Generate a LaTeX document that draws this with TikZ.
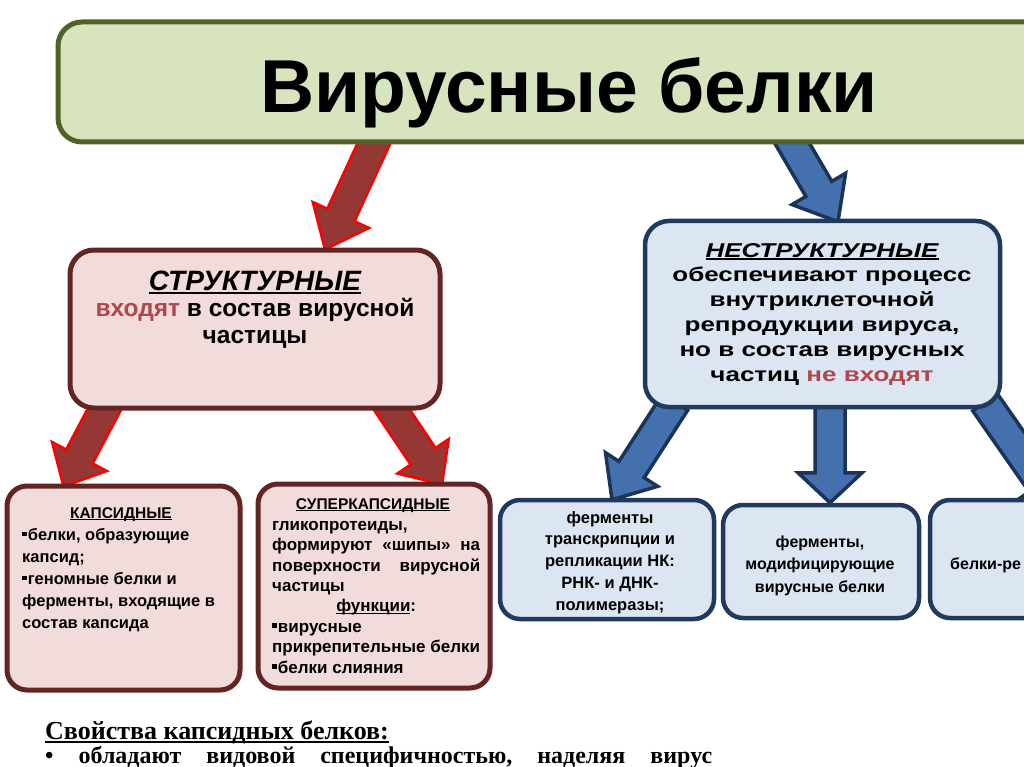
\documentclass[tikz,border=0pt]{standalone}
\usepackage{fontspec}
\setmainfont{Liberation Sans}
\newfontfamily\widefont[FakeStretch=1.3]{Liberation Sans}
\newfontfamily\serifb{Liberation Serif}
\usetikzlibrary{calc}
\pgfdeclarelayer{bg}
\pgfsetlayers{bg,main}
\definecolor{titlefill}{HTML}{D7E4BD}
\definecolor{titleline}{HTML}{4F6228}
\definecolor{pinkfill}{HTML}{F2DCDB}
\definecolor{pinkline}{HTML}{632523}
\definecolor{bluefill}{HTML}{DCE6F2}
\definecolor{blueline}{HTML}{1F3A5C}
\definecolor{redarrow}{HTML}{953735}
\definecolor{redarrowline}{HTML}{FF0000}
\definecolor{bluearrow}{HTML}{4471AD}
\definecolor{bluearrowline}{HTML}{1A3357}
\definecolor{redtext}{HTML}{B0474C}
\newsavebox\ulbox
\newcommand\sqb{\raisebox{0.24em}{\rule{0.28em}{0.28em}}\hspace{0.06em}}
\newcommand\ulx[2]{\sbox\ulbox{#2}\rlap{\rule[-0.15em]{\wd\ulbox}{#1}}\usebox\ulbox}
\newcommand\blockarr[6]{%
  \coordinate (ba-h) at ($(#2)!#5!(#1)$);
  \filldraw[#6] ($(#1)!#3!90:(#2)$) -- ($(ba-h)!#3!90:(#2)$) -- ($(ba-h)!#4!90:(#2)$) -- (#2)
    -- ($(ba-h)!#4!-90:(#2)$) -- ($(ba-h)!#3!-90:(#2)$) -- ($(#1)!#3!-90:(#2)$) -- cycle;}
\tikzset{
  titlebox/.style={draw=titleline, fill=titlefill, line width=5pt, rounded corners=24pt, inner sep=0pt},
  pinkbox/.style={draw=pinkline, fill=pinkfill, line width=5pt, rounded corners=24pt, inner sep=0pt},
  bluebox/.style={draw=blueline, fill=bluefill, line width=4.5pt, rounded corners=24pt, inner sep=0pt},
  smallbox/.style={rounded corners=20pt},
  tx/.style={inner sep=0pt, align=center},
  redarr/.style={fill=redarrow, draw=redarrowline, line width=2.5pt, line join=miter},
  bluearr/.style={fill=bluearrow, draw=bluearrowline, line width=3.5pt, line join=miter}
}
\begin{document}
\begin{tikzpicture}[x=1pt, y=-1pt]
\useasboundingbox (0,0) rectangle (1024,767);
\begin{pgfonlayer}{bg}
\fill[white] (0,0) rectangle (1024,767);
\end{pgfonlayer}

% boxes
\node[titlebox, minimum width=1022pt, minimum height=120pt] (title) at (569,82) {};
\node[pinkbox, minimum width=370pt, minimum height=158pt] (struct) at (255,329) {};
\node[pinkbox, smallbox, minimum width=233pt, minimum height=204pt] (capsid) at (123.5,588) {};
\node[pinkbox, smallbox, minimum width=232pt, minimum height=204pt] (supercap) at (374,586) {};
\node[bluebox, minimum width=355pt, minimum height=186pt] (nonstruct) at (822.5,314) {};
\node[bluebox, smallbox, minimum width=214pt, minimum height=119pt] (enz1) at (607,559.5) {};
\node[bluebox, smallbox, minimum width=196pt, minimum height=113pt] (enz2) at (821,561.5) {};
\node[bluebox, smallbox, minimum width=130pt, minimum height=118pt] (enz3) at (995,559) {};

% texts
\node[tx, anchor=base, font=\fontsize{75}{80}\selectfont\bfseries] (titletext) at (569,113) {Вирусные белки};

\node[tx, anchor=north, font=\fontsize{24.5}{26.5}\selectfont\bfseries] (structtext) at (255,262)
  {{\fontsize{28}{28}\selectfont\itshape\rule{0pt}{28pt}\ulx{2.2pt}{СТРУКТУРНЫЕ}}\\
   \textcolor{redtext}{входят} в состав вирусной\\ частицы};

\node[tx, anchor=base, font=\fontsize{15.5}{18}\selectfont\bfseries] (caphead) at (121,518) {\ulx{1.3pt}{КАПСИДНЫЕ}};
\node[tx, align=left, anchor=north west, font=\fontsize{16.5}{22}\selectfont\bfseries] (capbody) at (22,524)
  {\rule{0pt}{16pt}\sqb белки, образующие\\ капсид;\\ \sqb геномные белки и\\ ферменты, входящие в\\ состав капсида};

\node[tx, anchor=base, font=\fontsize{15.5}{18}\selectfont\bfseries] (suphead) at (373,509) {\ulx{1.3pt}{СУПЕРКАПСИДНЫЕ}};
\node[tx, align=left, anchor=north west, font=\fontsize{17}{20.4}\selectfont\bfseries] (supbody) at (272,514)
  {\rule{0pt}{16pt}гликопротеиды,\\
   \hbox to 208pt{формируют\hfill «шипы»\hfill на}\\
   \hbox to 208pt{поверхности\hfill вирусной}\\
   частицы\\
   \hbox to 208pt{\hfill\ulx{1.3pt}{функции}:\hfill}\\
   \sqb вирусные\\ прикрепительные белки\\ \sqb белки слияния};

\node[tx, anchor=base, font=\widefont\fontsize{20}{24}\selectfont\bfseries\itshape] (nshead) at (822,257) {\ulx{1.8pt}{НЕСТРУКТУРНЫЕ}};
\node[tx, anchor=north, font=\widefont\fontsize{20}{25}\selectfont\bfseries] (nsbody) at (822,261)
  {\rule{0pt}{20pt}обеспечивают процесс\\ внутриклеточной\\ репродукции вируса,\\ но в состав вирусных\\ частиц \textcolor{redtext}{не входят}};

\node[tx, anchor=north, font=\fontsize{16.5}{21.7}\selectfont\bfseries] (enz1text) at (610,507)
  {\rule{0pt}{16pt}ферменты\\ транскрипции и\\ репликации НК:\\ РНК- и ДНК-\\ полимеразы;};
\node[tx, anchor=north, font=\fontsize{16}{22.5}\selectfont\bfseries] (enz2text) at (820,531)
  {\rule{0pt}{16pt}ферменты,\\ модифицирующие\\ вирусные белки};
\node[tx, anchor=base west, font=\fontsize{16}{20}\selectfont\bfseries] (enz3text) at (950,569) {белки-ре};

\node[tx, anchor=base west, font=\serifb\fontsize{26}{30}\selectfont\bfseries] (props) at (45,739) {\ulx{1.8pt}{Свойства капсидных белков:}};
\node[tx, anchor=base west, font=\serifb\fontsize{24}{28}\selectfont\bfseries] (prop1) at (45,763)
  {\hbox to 667pt{•\hfill обладают\hfill видовой\hfill специфичностью,\hfill наделяя\hfill вирус}};

% arrow end points
\coordinate (r1s) at ($(title.south)+(-191,-10)$);
\coordinate (r1e) at ($(struct.north)+(70,2)$);
\coordinate (b1s) at ($(title.south)+(218,-10)$);
\coordinate (b1e) at ($(nonstruct.north)+(15.5,3)$);
\coordinate (r2s) at ($(struct.south)+(-147,-8)$);
\coordinate (r2e) at ($(capsid.north)+(-60,3)$);
\coordinate (r3s) at ($(struct.south)+(132,-8)$);
\coordinate (r3e) at ($(supercap.north)+(68,3)$);
\coordinate (b2s) at ($(nonstruct.south)+(-147.5,-7)$);
\coordinate (b2e) at ($(enz1.north)+(5,2)$);
\coordinate (b3s) at ($(nonstruct.south)+(7.5,-7)$);
\coordinate (b3e) at ($(enz2.north)+(9,0)$);
\coordinate (b4s) at ($(nonstruct.south)+(162.5,-7)$);
\coordinate (b4e) at ($(enz3.north)+(67,15)$);

\begin{pgfonlayer}{bg}
\blockarr{r1s}{r1e}{15pt}{31pt}{38pt}{redarr}
\blockarr{r2s}{r2e}{15pt}{31pt}{34pt}{redarr}
\blockarr{r3s}{r3e}{15pt}{31pt}{34pt}{redarr}
\blockarr{b1s}{b1e}{15pt}{31pt}{38pt}{bluearr}
\blockarr{b2s}{b2e}{15pt}{31pt}{36pt}{bluearr}
\blockarr{b3s}{b3e}{15pt}{32pt}{30pt}{bluearr}
\blockarr{b4s}{b4e}{15pt}{31pt}{36pt}{bluearr}
\end{pgfonlayer}
\end{tikzpicture}
\end{document}
